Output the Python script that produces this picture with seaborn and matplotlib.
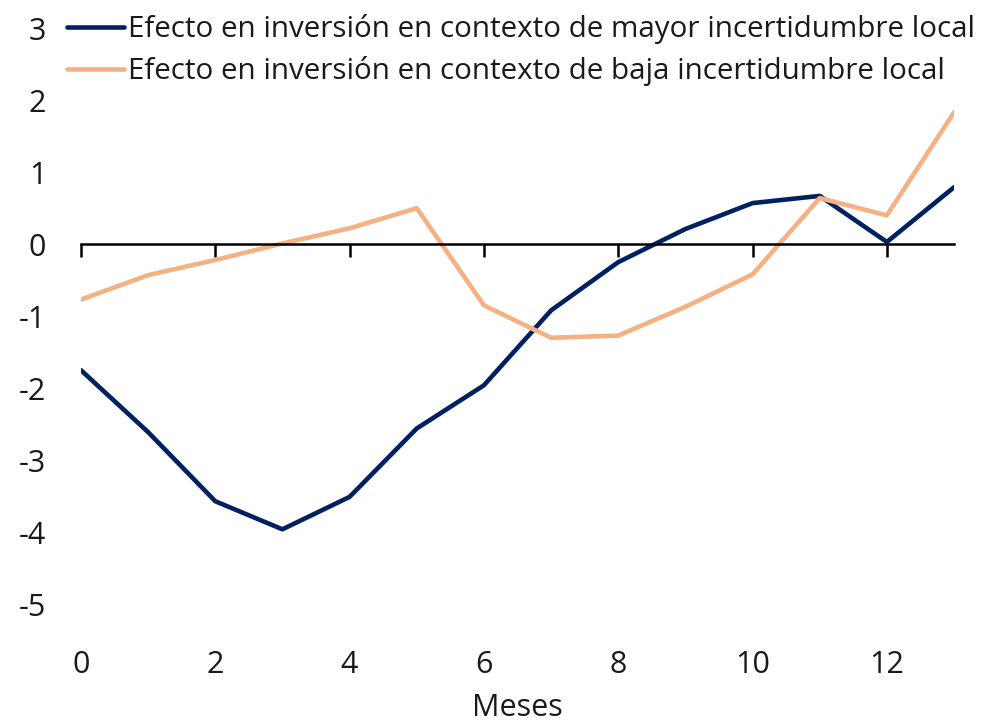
import matplotlib
matplotlib.use("Agg")
import matplotlib.pyplot as plt
import numpy as np
import pandas as pd
import seaborn as sns

meses = list(range(14))
alta = [-1.75, -2.61, -3.57, -3.96, -3.51, -2.56, -1.96, -0.92, -0.25, 0.21, 0.57, 0.67, 0.03, 0.79]
baja = [-0.77, -0.43, -0.22, 0.01, 0.22, 0.50, -0.85, -1.30, -1.27, -0.87, -0.42, 0.64, 0.40, 1.83]
lbl_alta = "Efecto en inversión en contexto de mayor incertidumbre local"
lbl_baja = "Efecto en inversión en contexto de baja incertidumbre local"

df = pd.DataFrame({"Meses": meses * 2,
                   "valor": alta + baja,
                   "serie": [lbl_alta] * 14 + [lbl_baja] * 14})

sns.set_style("white")
plt.rcParams['font.family'] = ['Open Sans', 'DejaVu Sans']
plt.rcParams['axes.unicode_minus'] = False
plt.rcParams['text.color'] = '#1a1a1a'

fig = plt.figure(figsize=(9.87, 7.21), dpi=100)
ax = fig.add_axes([0.082, 0.162, 0.8846, 0.799])

sns.lineplot(data=df, x="Meses", y="valor", hue="serie",
             palette=["#002060", "#F4B183"], linewidth=3.3, ax=ax)

ax.set_xlim(0, 13)
ax.set_ylim(-5, 3)
ax.set_yticks(range(-5, 4))
ax.tick_params(axis='y', length=0, labelsize=22, pad=25, labelcolor='#1a1a1a')
for s in ["top", "right", "left"]:
    ax.spines[s].set_visible(False)
ax.spines["bottom"].set_position(("data", 0))
ax.spines["bottom"].set_linewidth(1.8)
ax.spines["bottom"].set_color("black")
ax.set_xticks(range(0, 14, 2))
ax.tick_params(axis='x', bottom=True, direction='out', length=9, width=1.8,
               color='black', labelbottom=False)

# labels sit below the plot while the axis line stays at zero
sec = ax.secondary_xaxis(-0.0)
sec.spines["bottom"].set_visible(False)
sec.set_xticks(range(0, 14, 2))
sec.tick_params(length=0, labelsize=22, pad=33, labelcolor='#1a1a1a')
sec.set_xlabel("Meses", fontsize=22, labelpad=9, color='#1a1a1a')
ax.set_xlabel("")
ax.set_ylabel("")

leg = ax.legend(loc="upper left", bbox_to_anchor=(-0.03, 1.045), frameon=False,
                fontsize=21.3, handlelength=1.95, handletextpad=0.12, labelspacing=0.42,
                borderaxespad=0.0)
for line in leg.get_lines():
    line.set_linewidth(3.3)

fig.savefig("out.png", dpi=100)
